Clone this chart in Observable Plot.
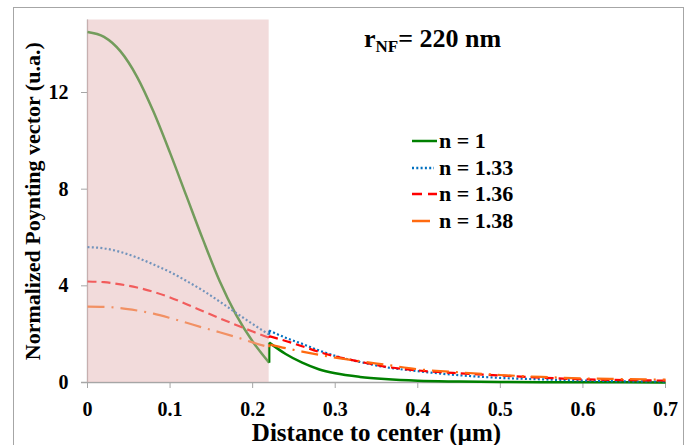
<!DOCTYPE html>
<html>
<head>
<meta charset="utf-8">
<script src="https://cdn.jsdelivr.net/npm/d3@7"></script>
<script src="https://cdn.jsdelivr.net/npm/@observablehq/plot@0.6"></script>
<style>
  html, body { margin: 0; padding: 0; background: #fff; }
  #wrap { position: relative; width: 691px; height: 445px; overflow: hidden; font-family: "Liberation Serif", "Times New Roman", serif; font-weight: bold; color: #000; }
  #frame { position: absolute; left: 13px; top: 7px; width: 671px; height: 460px; border: 1px solid #a6a6a6; box-sizing: border-box; pointer-events: none; }
  #chart { position: absolute; left: 0; top: 0; }
  #title { position: absolute; left: 364px; top: 26px; font-size: 26px; line-height: 26px; white-space: nowrap; }
  #title sub { font-size: 17px; vertical-align: -5px; line-height: 0; }
  #legend { position: absolute; left: 412px; top: 128px; font-size: 22px; }
  .row { display: flex; align-items: center; height: 26.5px; }
  .row svg { width: 27px; height: 10px; margin-right: 0px; }
</style>
</head>
<body>
<div id="wrap">
  <div id="chart"></div>
  <div id="frame"></div>
  <div id="title">r<sub>NF</sub>= 220 nm</div>
  <div id="legend"></div>
</div>
<script>
// ---- data ----
// inside the nanofiber (0 .. 0.22 µm)
const xsIn = [0, 0.02, 0.04, 0.06, 0.08, 0.1, 0.12, 0.14, 0.16, 0.18, 0.2, 0.22];
// outside the nanofiber (0.22 .. 0.7 µm)
const xsOut = [0.22, 0.24, 0.26, 0.28, 0.3, 0.33, 0.36, 0.4, 0.45, 0.5, 0.55, 0.6, 0.65, 0.7];

const yN100In  = [14.5, 14.3, 13.7, 12.65, 11.2, 9.5, 7.7, 5.9, 4.2, 2.8, 1.7, 0.82];
const yN100Out = [1.65, 1.18, 0.82, 0.55, 0.38, 0.23, 0.14, 0.07, 0.04, 0.02, 0.01, 0.01, 0.01, 0.0];
const yN133In  = [5.6, 5.55, 5.4, 5.17, 4.88, 4.57, 4.2, 3.8, 3.35, 2.88, 2.42, 1.98];
const yN133Out = [2.15, 1.85, 1.6, 1.33, 1.1, 0.85, 0.64, 0.47, 0.3, 0.19, 0.13, 0.08, 0.05, 0.04];
const yN136In  = [4.18, 4.15, 4.06, 3.93, 3.75, 3.52, 3.24, 2.95, 2.66, 2.38, 2.11, 1.85];
const yN136Out = [1.92, 1.72, 1.5, 1.27, 1.08, 0.86, 0.66, 0.5, 0.38, 0.29, 0.2, 0.13, 0.1, 0.08];
const yN138In  = [3.14, 3.13, 3.08, 2.98, 2.85, 2.67, 2.47, 2.27, 2.08, 1.88, 1.66, 1.46];
const yN138Out = [1.58, 1.42, 1.28, 1.15, 1.03, 0.88, 0.74, 0.55, 0.42, 0.31, 0.23, 0.17, 0.14, 0.12];

const seriesNames = ["n = 1", "n = 1.33", "n = 1.36", "n = 1.38"];
const xTicks = [0, 0.1, 0.2, 0.3, 0.4, 0.5, 0.6, 0.7];
const xTickLabels = ["0", "0.1", "0.2", "0.3", "0.4", "0.5", "0.6", "0.7"];
const yTicks = [0, 4, 8, 12];
const xDomain = [0, 0.7];
const yDomain = [0, 15];
const shade = [0, 0.22]; // nanofiber core region r < r_NF

// ---- styles ----
const styles = [
  {color: "#008000", width: 2.5, dash: null},
  {color: "#0070c0", width: 2.2, dash: "2,2.3"},
  {color: "#ff0000", width: 2.2, dash: "9,5"},
  {color: "#ff6a10", width: 2.2, dash: "17,7,2,7"}
];
const seriesIn = [yN100In, yN133In, yN136In, yN138In];
const seriesOut = [yN100Out, yN133Out, yN136Out, yN138Out];
const rows = seriesIn.map((ysIn, i) => [
  ...xsIn.map((x, k) => ({x, y: ysIn[k], seg: "in"})),
  ...xsOut.map((x, k) => ({x, y: seriesOut[i][k], seg: "out"}))
]);
const jumps = seriesIn.map((ysIn, i) => [{x: shade[1], y1: ysIn[ysIn.length - 1], y2: seriesOut[i][0]}]);
const shadeData = [{x1: shade[0], x2: shade[1], y1: yDomain[0], y2: yDomain[1]}];

const marks = [
  Plot.ruleY([0], {stroke: "#a6a6a6", strokeWidth: 1.3, insetLeft: -6}),
  Plot.ruleX([0], {stroke: "#a6a6a6", strokeWidth: 1.3}),
  Plot.axisX({ticks: xTicks, tickFormat: (d, i) => xTickLabels[i], tickSize: 6, tickPadding: 13, stroke: "#a6a6a6", fontSize: 20, label: null}),
  Plot.axisY({ticks: yTicks, tickSize: 6, tickPadding: 13, stroke: "#a6a6a6", fontSize: 20, label: null}),
  ...rows.map((r, i) => Plot.line(r, {x: "x", y: "y", z: "seg", stroke: styles[i].color, strokeWidth: styles[i].width, strokeDasharray: styles[i].dash, strokeLinecap: "butt", curve: "monotone-x"})),
  ...jumps.map((j, i) => Plot.link(j, {x1: "x", x2: "x", y1: "y1", y2: "y2", stroke: styles[i].color, strokeWidth: styles[i].width})),
  Plot.rect(shadeData, {x1: "x1", x2: "x2", y1: "y1", y2: "y2", fill: "#e6b8b7", fillOpacity: 0.5}),
  Plot.text(["Normalized Poynting vector (u.a.)"], {frameAnchor: "left", rotate: -90, dx: -55, fontSize: 22, text: d => d, textAnchor: "middle", lineAnchor: "middle"}),
  Plot.text(["Distance to center (µm)"], {frameAnchor: "bottom", dy: 50, fontSize: 25, text: d => d, textAnchor: "middle", lineAnchor: "middle"})
];

const chart = Plot.plot({
  width: 691,
  height: 445,
  marginLeft: 87,
  marginRight: 26,
  marginTop: 19.5,
  marginBottom: 63,
  x: {domain: xDomain},
  y: {domain: yDomain},
  style: {fontFamily: "Liberation Serif, Times New Roman, serif", fontWeight: "bold", fontSize: "20px", background: "transparent", color: "#000", overflow: "visible"},
  marks
});
document.getElementById("chart").appendChild(chart);

// ---- legend ----
const legend = document.getElementById("legend");
const legendDash = [null, "2,2.3", "10,6", null];
const legendLen = [25, 22, 25, 18];
seriesNames.forEach((name, i) => {
  const row = document.createElement("div");
  row.className = "row";
  const svg = d3.create("svg").attr("width", 27).attr("height", 10);
  svg.append("line").attr("x1", 0).attr("x2", legendLen[i]).attr("y1", 5).attr("y2", 5)
    .attr("stroke", styles[i].color).attr("stroke-width", 2.5)
    .attr("stroke-dasharray", legendDash[i]);
  row.appendChild(svg.node());
  const span = document.createElement("span");
  span.textContent = name;
  row.appendChild(span);
  legend.appendChild(row);
});
</script>
</body>
</html>
